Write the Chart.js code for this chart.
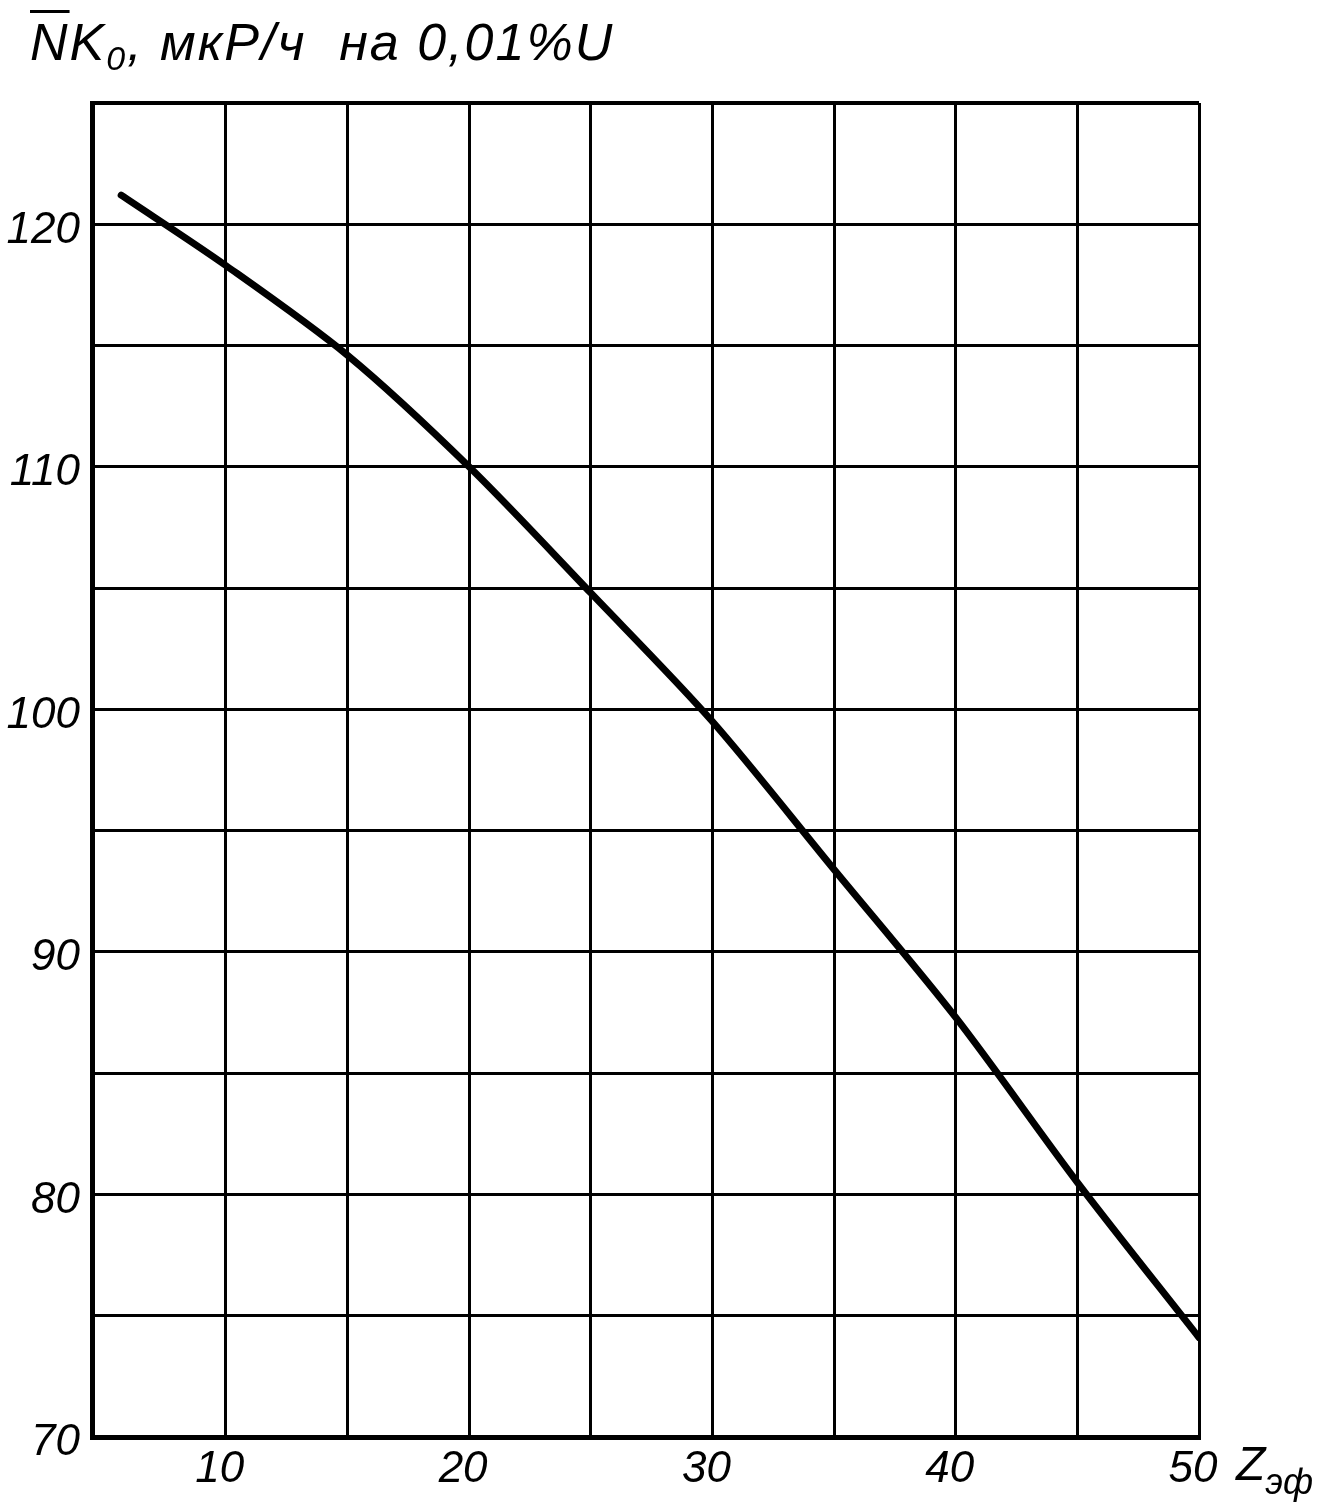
<!DOCTYPE html>
<html>
<head>
<meta charset="utf-8">
<script src="https://cdn.jsdelivr.net/npm/chart.js@4"></script>
<style>
  html, body { margin: 0; padding: 0; background: #fff; }
  #wrap { position: relative; width: 1335px; height: 1509px; }
  .lbl {
    position: absolute;
    font-family: 'Liberation Sans', 'DejaVu Sans', sans-serif;
    font-style: italic;
    color: #000;
    white-space: nowrap;
  }
  #ytitle { left: 30px; top: 12px; font-size: 52px; letter-spacing: 2px; }
  #ytitle .ov { text-decoration: overline; text-decoration-thickness: 3px; }
  #ytitle sub { font-size: 34px; vertical-align: -10px; }
  #xtitle { left: 1236px; top: 1436px; font-size: 48px; }
  #xtitle sub { font-size: 36px; vertical-align: -14px; }
</style>
</head>
<body>
<div id="wrap">
  <canvas id="chart"></canvas>
  <div class="lbl" id="ytitle"><span class="ov">N</span>K<sub>0</sub>, мкР/ч&nbsp; на 0,01%U</div>
  <div class="lbl" id="xtitle">Z<sub>эф</sub></div>
</div>
<script>
'use strict';

// ── Data ──────────────────────────────────────────────────
const Z_EF = [5.7, 10, 15, 20, 25, 30, 35, 40, 45, 50];
const NK0  = [121.2, 118.3, 114.6, 110.0, 104.8, 99.5, 93.4, 87.3, 80.5, 74.1];

// grid every 5, labels every 10
const X_GRID = [10, 15, 20, 25, 30, 35, 40, 45, 50];
const Y_GRID = [70, 75, 80, 85, 90, 95, 100, 105, 110, 115, 120, 125];
const X_LABELS = [10, 20, 30, 40, 50];
const Y_LABELS = [70, 80, 90, 100, 110, 120];

const FONT = { family: "'Liberation Sans', 'DejaVu Sans', sans-serif", size: 44, style: 'italic' };

new Chart(document.getElementById('chart'), {
  type: 'line',
  data: {
    datasets: [{
      data: Z_EF.map((x, i) => ({ x, y: NK0[i] })),
      borderColor: '#000',
      borderWidth: 7,
      pointRadius: 0,
      tension: 0.3,
      borderCapStyle: 'round',
      fill: false,
    }]
  },
  options: {
    responsive: true, maintainAspectRatio: false,
    animation: false,
    layout: { padding: { left: 0, top: 103, right: 136, bottom: 0 } },
    plugins: { legend: { display: false }, tooltip: { enabled: false } },
    scales: {
      x: {
        type: 'linear', min: 4.5, max: 50,
        afterBuildTicks: s => { s.ticks = X_GRID.map(v => ({ value: v })); },
        afterFit: s => { s.height = 72; },
        grid: { color: '#000', lineWidth: 3, drawTicks: false },
        border: { color: '#000', width: 5 },
        ticks: {
          font: FONT, color: '#000', padding: 6, labelOffset: -6, maxRotation: 0, autoSkip: false,
          callback: v => X_LABELS.includes(v) ? String(v) : '',
        },
      },
      y: {
        type: 'linear', min: 70, max: 125,
        afterBuildTicks: s => { s.ticks = Y_GRID.map(v => ({ value: v })); },
        afterFit: s => { s.width = 92; },
        grid: { color: '#000', lineWidth: c => c.tick && c.tick.value === 125 ? 4 : 3, drawTicks: false },
        border: { color: '#000', width: 5 },
        ticks: {
          font: FONT, color: '#000', padding: 12, labelOffset: 6, autoSkip: false,
          callback: v => Y_LABELS.includes(v) ? String(v) : '',
        },
      },
    },
  },
});
</script>
</body>
</html>
